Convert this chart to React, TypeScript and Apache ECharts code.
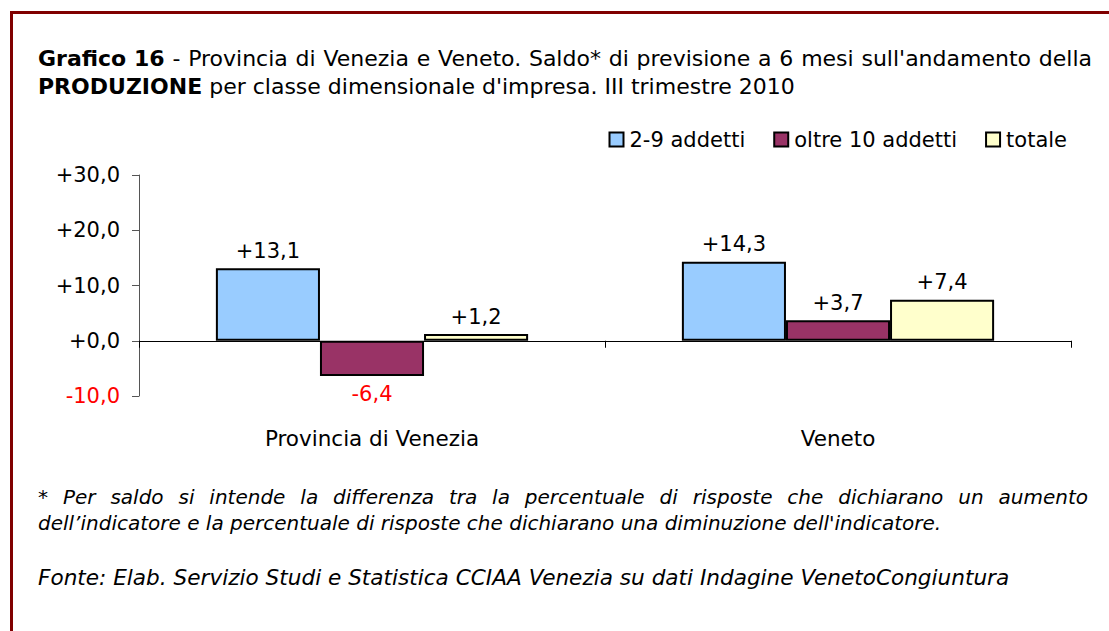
import React, { useEffect, useRef } from "react";
import * as echarts from "echarts";

const categories = ["Provincia di Venezia", "Veneto"];
const seriesNames = ["2-9 addetti", "oltre 10 addetti", "totale"];
const small = [13.1, 14.3];
const large = [-6.4, 3.7];
const total = [1.2, 7.4];
const colors = ["#99CCFF", "#993366", "#FFFFCC"];

const titleLine1 = "Grafico 16| - Provincia di Venezia e Veneto. Saldo* di previsione a 6 mesi sull'andamento della";
const titleLine2Bold = "PRODUZIONE";
const titleLine2 = " per classe dimensionale d'impresa. III trimestre 2010";
const note1 = "* Per saldo si intende la differenza tra la percentuale di risposte che dichiarano un aumento";
const note2 = "dell\u2019indicatore e la percentuale di risposte che dichiarano una diminuzione dell'indicatore.";
const source = "Fonte: Elab. Servizio Studi e Statistica CCIAA Venezia su dati Indagine VenetoCongiuntura";

const FAM = "'DejaVu Sans', sans-serif";

const fmt = (v: number) => (v >= 0 ? "+" : "") + v.toFixed(1).replace(".", ",");

let _ctx: CanvasRenderingContext2D | null = null;
function measure(t: string, font: string) {
  if (!_ctx) _ctx = document.createElement("canvas").getContext("2d");
  _ctx!.font = font;
  return _ctx!.measureText(t).width;
}

// justified line: words with bold flag
function justify(
  words: { t: string; bold: boolean }[],
  x0: number,
  x1: number,
  y: number,
  size: number,
  italic: boolean
) {
  const fontOf = (b: boolean) => `${italic ? "italic " : ""}${b ? "bold " : ""}${size}px ${FAM}`;
  const widths = words.map((w) => measure(w.t, fontOf(w.bold)));
  const sum = widths.reduce((a, b) => a + b, 0);
  const gap = (x1 - x0 - sum) / (words.length - 1);
  let x = x0;
  return words.map((w, i) => {
    const el = {
      type: "text",
      x,
      y,
      silent: true,
      style: { text: w.t, font: fontOf(w.bold), fill: "#000", verticalAlign: "middle" },
    };
    x += widths[i] + gap;
    return el;
  });
}

export default function App() {
  const ref = useRef<HTMLDivElement>(null);
  useEffect(() => {
    const chart = echarts.init(ref.current!, null, { renderer: "svg" });
    const mk = (name: string, data: number[], color: string) => ({
      name,
      type: "bar",
      barGap: "0%",
      barCategoryGap: "33%",
      itemStyle: { color, borderColor: "#000", borderWidth: 2 },
      label: {
        show: true,
        position: "top",
        distance: 7,
        fontFamily: FAM,
        fontSize: 21,
        color: "#000",
        formatter: (p: any) => fmt(p.value),
      },
      data: data.map((v) =>
        v < 0 ? { value: v, label: { position: "bottom", color: "#FF0000" } } : v
      ),
    });

    const [boldPart, restPart] = titleLine1.split("|");
    const t1Words = [
      ...boldPart.split(" ").map((t) => ({ t, bold: true })),
      ...restPart.trim().split(" ").map((t) => ({ t, bold: false })),
    ];
    const n1Words = note1.split(" ").map((t) => ({ t, bold: false }));

    chart.setOption({
      animation: false,
      textStyle: { fontFamily: FAM },
      grid: { left: 139, right: 38, top: 175, bottom: 235 },
      legend: {
        right: 37,
        top: 124,
        itemWidth: 14,
        itemHeight: 14,
        itemGap: 28,
        icon: "rect",
        textStyle: { fontFamily: FAM, fontSize: 21, color: "#000", padding: [0, 0, 0, 1] },
        data: seriesNames,
        itemStyle: { borderColor: "#000", borderWidth: 2 },
      },
      xAxis: {
        type: "category",
        data: categories,
        axisLine: { onZero: true, lineStyle: { color: "#000", width: 1 } },
        axisTick: { show: true, length: 7, lineStyle: { color: "#000" } },
        axisLabel: { show: false },
      },
      yAxis: {
        type: "value",
        min: -10,
        max: 30,
        interval: 10,
        splitLine: { show: false },
        axisLine: { show: true, lineStyle: { color: "#555", width: 1 } },
        axisTick: { show: true, length: 7, lineStyle: { color: "#555" } },
        axisLabel: {
          fontFamily: FAM,
          fontSize: 21,
          margin: 19,
          color: (v: any) => (Number(v) < 0 ? "#FF0000" : "#000"),
          formatter: (v: number) => fmt(v),
        },
      },
      graphic: [
        {
          type: "rect",
          shape: { x: 11.5, y: 12.5, width: 1200, height: 700 },
          style: { fill: "none", stroke: "#800000", lineWidth: 3 },
          silent: true,
        },
        ...justify(t1Words, 38, 1092, 58, 22, false),
        {
          type: "text",
          x: 38,
          y: 86,
          style: {
            text: `{b|${titleLine2Bold}}${titleLine2}`,
            font: `22px ${FAM}`,
            fill: "#000",
            verticalAlign: "middle",
            rich: { b: { fontWeight: "bold", fontSize: 22, fontFamily: FAM } },
          },
        },
        {
          type: "text",
          x: 372,
          y: 438,
          style: { text: categories[0], font: `21.5px ${FAM}`, fill: "#000", align: "center", verticalAlign: "middle" },
        },
        {
          type: "text",
          x: 838,
          y: 438,
          style: { text: categories[1], font: `21.5px ${FAM}`, fill: "#000", align: "center", verticalAlign: "middle" },
        },
        ...justify(n1Words, 38, 1088, 497, 20, true),
        {
          type: "text",
          x: 38,
          y: 523,
          style: { text: note2, font: `italic 20px ${FAM}`, fill: "#000", verticalAlign: "middle" },
        },
        {
          type: "text",
          x: 38,
          y: 577,
          style: { text: source, font: `italic 21.6px ${FAM}`, fill: "#000", verticalAlign: "middle" },
        },
      ],
      series: [mk(seriesNames[0], small, colors[0]), mk(seriesNames[1], large, colors[1]), mk(seriesNames[2], total, colors[2])],
    });
    return () => chart.dispose();
  }, []);
  return (
    <div
      ref={ref}
      style={{ position: "fixed", left: 0, top: 0, width: 1109, height: 631, background: "#fff" }}
    />
  );
}
